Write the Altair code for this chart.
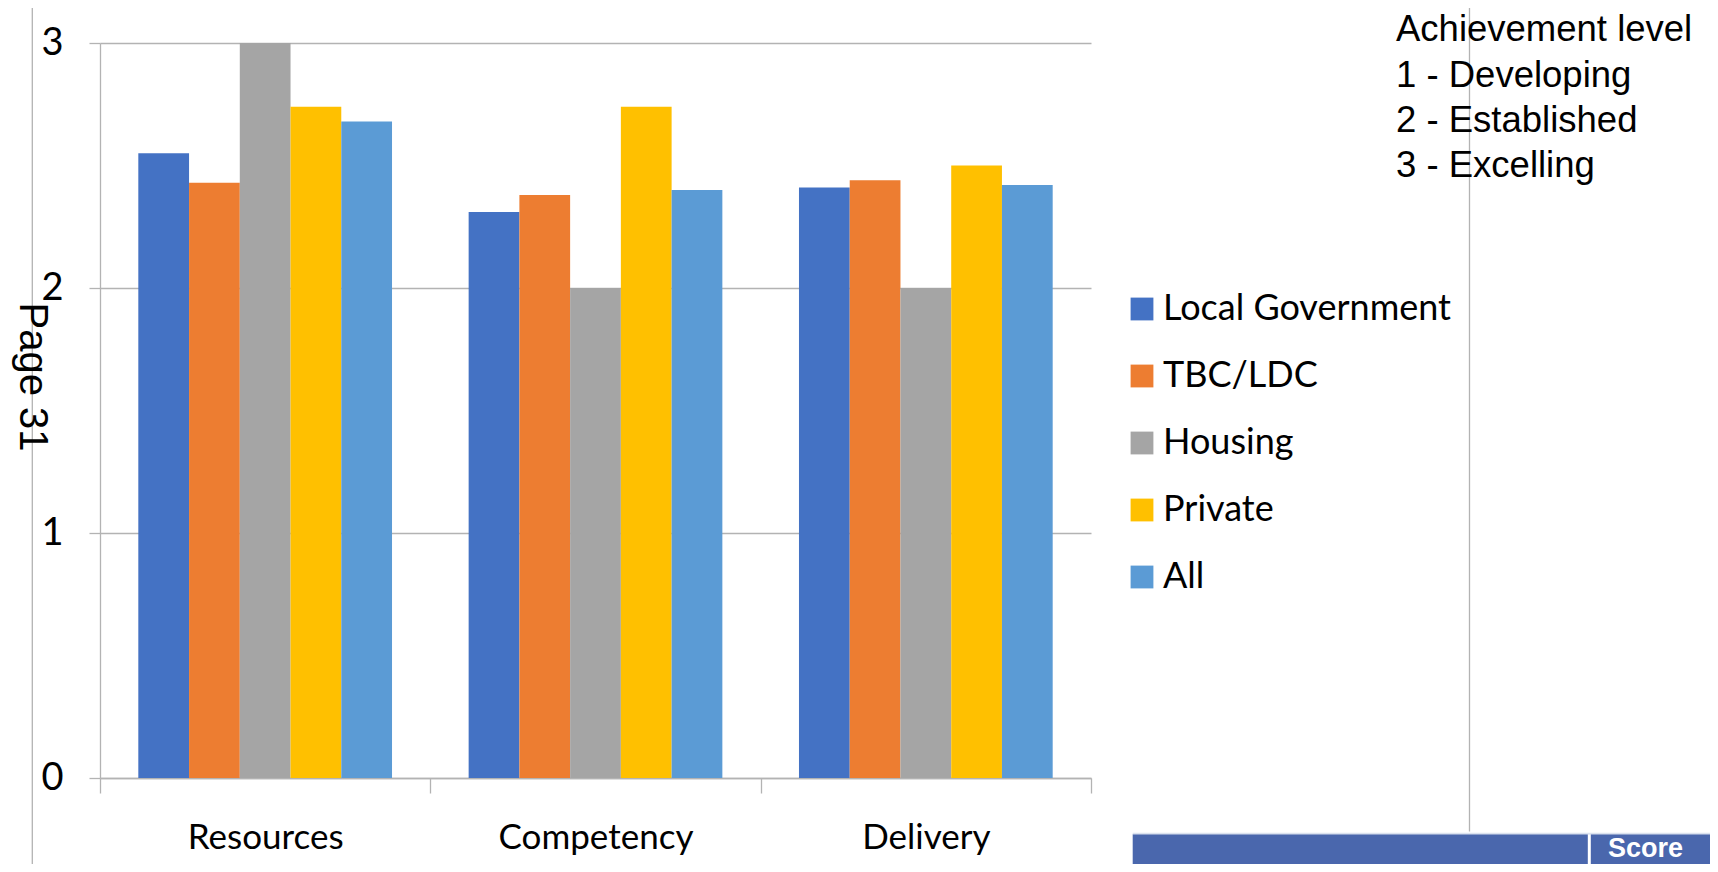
import altair as alt
import pandas as pd

# ---- data ----
categories = ["Resources", "Competency", "Delivery"]
series = ["Local Government", "TBC/LDC", "Housing", "Private", "All"]
local_government = [2.55, 2.31, 2.41]
tbc_ldc = [2.43, 2.38, 2.44]
housing = [3.0, 2.0, 2.0]
private = [2.74, 2.74, 2.50]
all_orgs = [2.68, 2.40, 2.42]
series_colors = ["#4472c4", "#ed7d31", "#a5a5a5", "#ffc000", "#5b9bd5"]
y_ticks = [0, 1, 2, 3]
note_lines = ["Achievement level", "1 - Developing", "2 - Established", "3 - Excelling"]
page_label = "Page 31"
table_header = "Score"

values_by_series = [local_government, tbc_ldc, housing, private, all_orgs]
rows = []
for s, vals in zip(series, values_by_series):
    for c, v in zip(categories, vals):
        rows.append({"category": c, "series": s, "value": v})
df = pd.DataFrame(rows)

GRAY = "#b3b3b3"
W, H = 991, 735

bars = alt.Chart(df).mark_bar().encode(
    x=alt.X(
        "category:N", sort=categories, title=None,
        scale=alt.Scale(paddingInner=0, paddingOuter=0),
        axis=alt.Axis(
            labelFont="Lato", labelFontSize=35, labelColor="#000000", labelAngle=0,
            labelLimit=400, tickBand="extent", tickSize=15, tickColor=GRAY, tickWidth=1.3,
            domainColor=GRAY, domainWidth=1.3, labelBaseline="alphabetic", labelPadding=55,
            grid=False,
        ),
    ),
    xOffset=alt.XOffset("series:N", sort=series,
                        scale=alt.Scale(paddingInner=0, paddingOuter=0.755)),
    y=alt.Y(
        "value:Q", title=None,
        scale=alt.Scale(domain=[0, 3], nice=False),
        axis=alt.Axis(
            values=y_ticks, format="d", labelFont="Lato", labelFontSize=38, labelColor="#000000",
            tickSize=11, tickColor=GRAY, tickWidth=1.3, labelPadding=26,
            domainColor=GRAY, domainWidth=1.3, grid=True, gridColor=GRAY, gridWidth=1.3,
        ),
    ),
    color=alt.Color(
        "series:N", sort=series, title=None,
        scale=alt.Scale(domain=series, range=series_colors),
        legend=alt.Legend(
            orient="none", legendX=1024, legendY=248, padding=0,
            symbolType="square", symbolSize=520, symbolStrokeWidth=0,
            labelFont="Lato", labelFontSize=36, labelColor="#000000", labelLimit=400,
            labelOffset=3, rowPadding=31,
        ),
    ),
)

one = alt.Data(values=[{}])


def text_layer(txt, x, y, **kw):
    return alt.Chart(one).mark_text(text=txt, **kw).encode(x=alt.value(x), y=alt.value(y))


def rule_layer(x, x2, y, y2, color=GRAY, width=1.3):
    return alt.Chart(one).mark_rule(color=color, strokeWidth=width).encode(
        x=alt.value(x), x2=alt.value(x2), y=alt.value(y), y2=alt.value(y2)
    )


layers = [bars]

# outer page frame
layers.append(rule_layer(-67.7, 1369.5, -37.3, -37.3))
layers.append(rule_layer(-67.7, -67.7, -37.3, 830))
layers.append(rule_layer(1369.5, 1369.5, -37.3, 788.4))

# note text top right
note_y = [-2, 43.5, 89, 134]
for line, yy in zip(note_lines, note_y):
    layers.append(text_layer(line, 1296, yy, font="Liberation Sans", fontSize=36.5,
                             align="left", baseline="alphabetic", color="#000000"))

# rotated page label
layers.append(text_layer(page_label, -68.5, 334, font="Liberation Sans", fontSize=40,
                         angle=90, align="center", baseline="middle", color="#000000"))

# table header strip at bottom right
layers.append(
    alt.Chart(one).mark_rect(color="#4a67ad").encode(
        x=alt.value(1032.7), x2=alt.value(1620), y=alt.value(791.2), y2=alt.value(830)
    )
)
layers.append(rule_layer(1032.7, 1620, 790.5, 790.5, color="#dbe2ef", width=1.5))
layers.append(rule_layer(1489.3, 1489.3, 791.2, 830, color="#ffffff", width=3))
layers.append(text_layer(table_header, 1508, 814, font="Liberation Sans", fontSize=27,
                         fontWeight="bold", align="left", baseline="alphabetic", color="#ffffff"))

chart = alt.layer(*layers).properties(
    width=W, height=H,
    autosize=alt.AutoSizeParams(type="none"),
    padding={"left": 92, "top": 35, "right": 619, "bottom": 86},
    background="#ffffff",
).configure_view(strokeWidth=0)

chart.save("out.html", embed_options={"renderer": "svg", "actions": False})
